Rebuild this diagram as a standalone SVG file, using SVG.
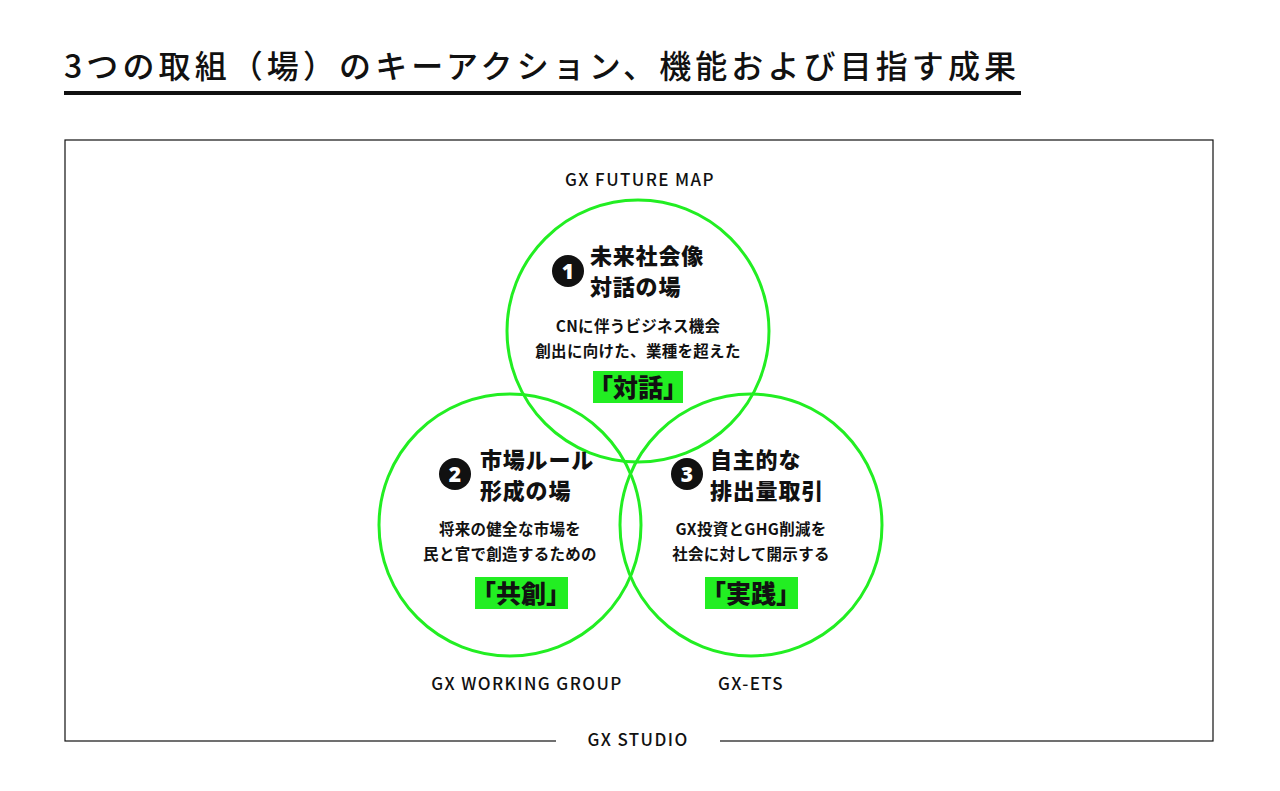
<svg xmlns="http://www.w3.org/2000/svg" width="1280" height="791" viewBox="0 0 1280 791">
<style>
text{font-family:"Noto Sans CJK JP","Noto Sans",sans-serif;fill:#111}
.lbl{font-size:17px;font-weight:500;text-anchor:middle;letter-spacing:1.4px}
.ttl{font-size:22px;font-weight:900;letter-spacing:0.8px}
.body{font-size:15.5px;font-weight:700;text-anchor:middle;letter-spacing:0.3px}
.hl{font-size:25px;font-weight:900;text-anchor:middle}
.ring{fill:none;stroke:#22ee22;stroke-width:3}
.hbox{fill:#22ee22}
.badge{fill:#111}
.num{fill:#fff;font-size:21px;font-weight:900;text-anchor:middle;font-family:"Noto Sans",sans-serif}
</style>
<rect width="1280" height="791" fill="#fff"/>
<text x="64" y="78" style="font-size:32px;font-weight:500;letter-spacing:4.1px">3つの取組（場）のキーアクション、機能および目指す成果</text>
<rect x="64" y="91" width="957" height="4" fill="#111"/>
<rect x="65" y="140" width="1148" height="601" fill="none" stroke="#111" stroke-width="1.2"/>
<rect x="556" y="730" width="164" height="20" fill="#fff"/>
<text class="lbl" x="640" y="186">GX FUTURE MAP</text>
<text class="lbl" x="527" y="690">GX WORKING GROUP</text>
<text class="lbl" x="751" y="690">GX-ETS</text>
<text class="lbl" x="638" y="746">GX STUDIO</text>
<g id="connectors"></g>
<g id="node1">
<circle class="ring" cx="638" cy="331" r="131"/>
<circle class="badge" cx="568" cy="271" r="16"/><text class="num" x="568" y="278.5">1</text>
<text class="ttl" x="590" y="264">未来社会像</text>
<text class="ttl" x="590" y="295">対話の場</text>
<text class="body" x="638" y="332">CNに伴うビジネス機会</text>
<text class="body" x="638" y="357">創出に向けた、業種を超えた</text>
<rect class="hbox" x="593" y="371" width="90" height="32"/>
<text class="hl" x="638" y="397">「対話」</text>
</g>
<g id="node2">
<circle class="ring" cx="510" cy="525" r="131"/>
<circle class="badge" cx="455" cy="474" r="16"/><text class="num" x="455" y="481.5">2</text>
<text class="ttl" x="480" y="468">市場ルール</text>
<text class="ttl" x="480" y="499">形成の場</text>
<text class="body" x="510" y="535">将来の健全な市場を</text>
<text class="body" x="510" y="560">民と官で創造するための</text>
<rect class="hbox" x="475" y="577" width="93" height="32"/>
<text class="hl" x="521" y="603">「共創」</text>
</g>
<g id="node3">
<circle class="ring" cx="751" cy="525" r="131"/>
<circle class="badge" cx="687" cy="474" r="16"/><text class="num" x="687" y="481.5">3</text>
<text class="ttl" x="710" y="468">自主的な</text>
<text class="ttl" x="710" y="499">排出量取引</text>
<text class="body" x="751" y="535">GX投資とGHG削減を</text>
<text class="body" x="751" y="560">社会に対して開示する</text>
<rect class="hbox" x="705" y="577" width="93" height="32"/>
<text class="hl" x="751" y="603">「実践」</text>
</g>
</svg>
